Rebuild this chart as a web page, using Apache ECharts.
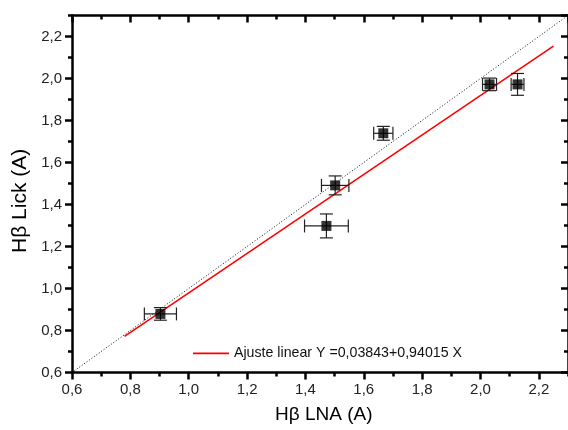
<!DOCTYPE html>
<html>
<head>
<meta charset="utf-8">
<script src="https://cdn.jsdelivr.net/npm/echarts@6/dist/echarts.min.js"></script>
<style>
html,body{margin:0;padding:0;background:#fff;}
#c{width:568px;height:430px;}
</style>
</head>
<body>
<div id="c"></div>
<script>
// ---- data ----
const xVals = [0.903, 1.472, 1.502, 1.667, 2.031, 2.127];
const yVals = [0.879, 1.298, 1.491, 1.739, 1.972, 1.972];
const xErr  = [0.055, 0.075, 0.047, 0.033, 0.024, 0.022];
const yErr  = [0.030, 0.057, 0.045, 0.033, 0.030, 0.052];
const fitX  = [0.78, 2.25];
const fitY  = [0.772, 2.154];
const idX   = [0.6, 2.3];
const idY   = [0.6, 2.3];
const fitName = 'Ajuste linear Y =0,03843+0,94015 X';
const xName = 'H\u03B2 LNA (A)';
const yName = 'H\u03B2 Lick (A)';

const FONT = 'Liberation Sans, Arial, sans-serif';
const fmt = v => (v > 2.25 ? '' : v.toFixed(1).replace('.', ','));

const chart = echarts.init(document.getElementById('c'), null, {renderer: 'canvas'});

function axis(pos, interval, len, inside, showLine, showLabel) {
  return {
    type: 'value', position: pos, min: 0.6, max: 2.3, interval: interval,
    splitLine: {show: false},
    axisLine: {show: showLine, onZero: false, lineStyle: {color: '#000', width: 2.5}},
    axisTick: {show: true, inside: inside, length: len, lineStyle: {color: '#000', width: 2.5}},
    axisLabel: {show: showLabel, formatter: fmt, color: '#222', fontSize: 15, fontFamily: FONT,
                margin: 10, showMaxLabel: false}
  };
}

const errData = xVals.map((x, i) => [x, yVals[i], x - xErr[i], x + xErr[i], yVals[i] - yErr[i], yVals[i] + yErr[i]]);

const option = {
  animation: false,
  backgroundColor: '#fff',
  grid: {left: 72, top: 15.5, right: -4, bottom: 57.5, containLabel: false},
  xAxis: [
    axis('bottom', 0.2, 7, false, true, true),
    axis('bottom', 0.1, 4, false, false, false),
    axis('top', 0.2, 7, true, true, false),
    axis('top', 0.1, 4, true, false, false)
  ],
  yAxis: [
    axis('left', 0.2, 7, false, true, true),
    axis('left', 0.1, 4, false, false, false),
    axis('right', 0.2, 7, true, true, false),
    axis('right', 0.1, 4, true, false, false)
  ],
  legend: {
    show: true,
    data: [{name: fitName, icon: 'rect'}], left: 188, top: 341.4, itemWidth: 36, itemHeight: 1.6, itemGap: 0,
    textStyle: {fontSize: 14.2, fontFamily: FONT, color: '#111'}
  },
  graphic: [
    {type: 'text', left: 275, top: 405, style: {text: xName, fontSize: 19, fontFamily: FONT, fill: '#000'}},
    {type: 'text', x: 10, y: 253, rotation: Math.PI / 2,
     style: {text: yName, fontSize: 21, fontFamily: FONT, fill: '#000'}}
  ],
  series: [
    {
      type: 'line', name: 'identity', xAxisIndex: 0, yAxisIndex: 0,
      data: idX.map((x, i) => [x, idY[i]]), symbol: 'none',
      lineStyle: {color: '#111', width: 1, type: [1, 2]}, silent: true, z: 2
    },
    {
      type: 'line', name: fitName, xAxisIndex: 0, yAxisIndex: 0,
      data: fitX.map((x, i) => [x, fitY[i]]), symbol: 'none', showSymbol: false,
      color: '#ff0000',
      lineStyle: {color: '#ff0000', width: 1.6}, itemStyle: {color: '#ff0000'}, z: 3
    },
    {
      type: 'custom', name: 'err', xAxisIndex: 0, yAxisIndex: 0, z: 4,
      data: errData,
      renderItem: function (params, api) {
        const c = api.coord([api.value(0), api.value(1)]);
        const xl = api.coord([api.value(2), api.value(1)]);
        const xh = api.coord([api.value(3), api.value(1)]);
        const yl = api.coord([api.value(0), api.value(4)]);
        const yh = api.coord([api.value(0), api.value(5)]);
        const h = 6.5;
        const st = {stroke: '#222', lineWidth: 1.2, fill: null};
        const L = (x1, y1, x2, y2) => ({type: 'line', shape: {x1, y1, x2, y2}, style: st});
        return {type: 'group', children: [
          L(xl[0], c[1], xh[0], c[1]),
          L(xl[0], c[1] - h, xl[0], c[1] + h),
          L(xh[0], c[1] - h, xh[0], c[1] + h),
          L(c[0], yl[1], c[0], yh[1]),
          L(c[0] - h, yl[1], c[0] + h, yl[1]),
          L(c[0] - h, yh[1], c[0] + h, yh[1])
        ]};
      }
    },
    {
      type: 'scatter', name: 'pts', xAxisIndex: 0, yAxisIndex: 0, z: 5,
      data: xVals.map((x, i) => [x, yVals[i]]),
      symbol: 'rect', symbolSize: 10, itemStyle: {color: '#000'}
    }
  ]
};
chart.setOption(option);
</script>
</body>
</html>
